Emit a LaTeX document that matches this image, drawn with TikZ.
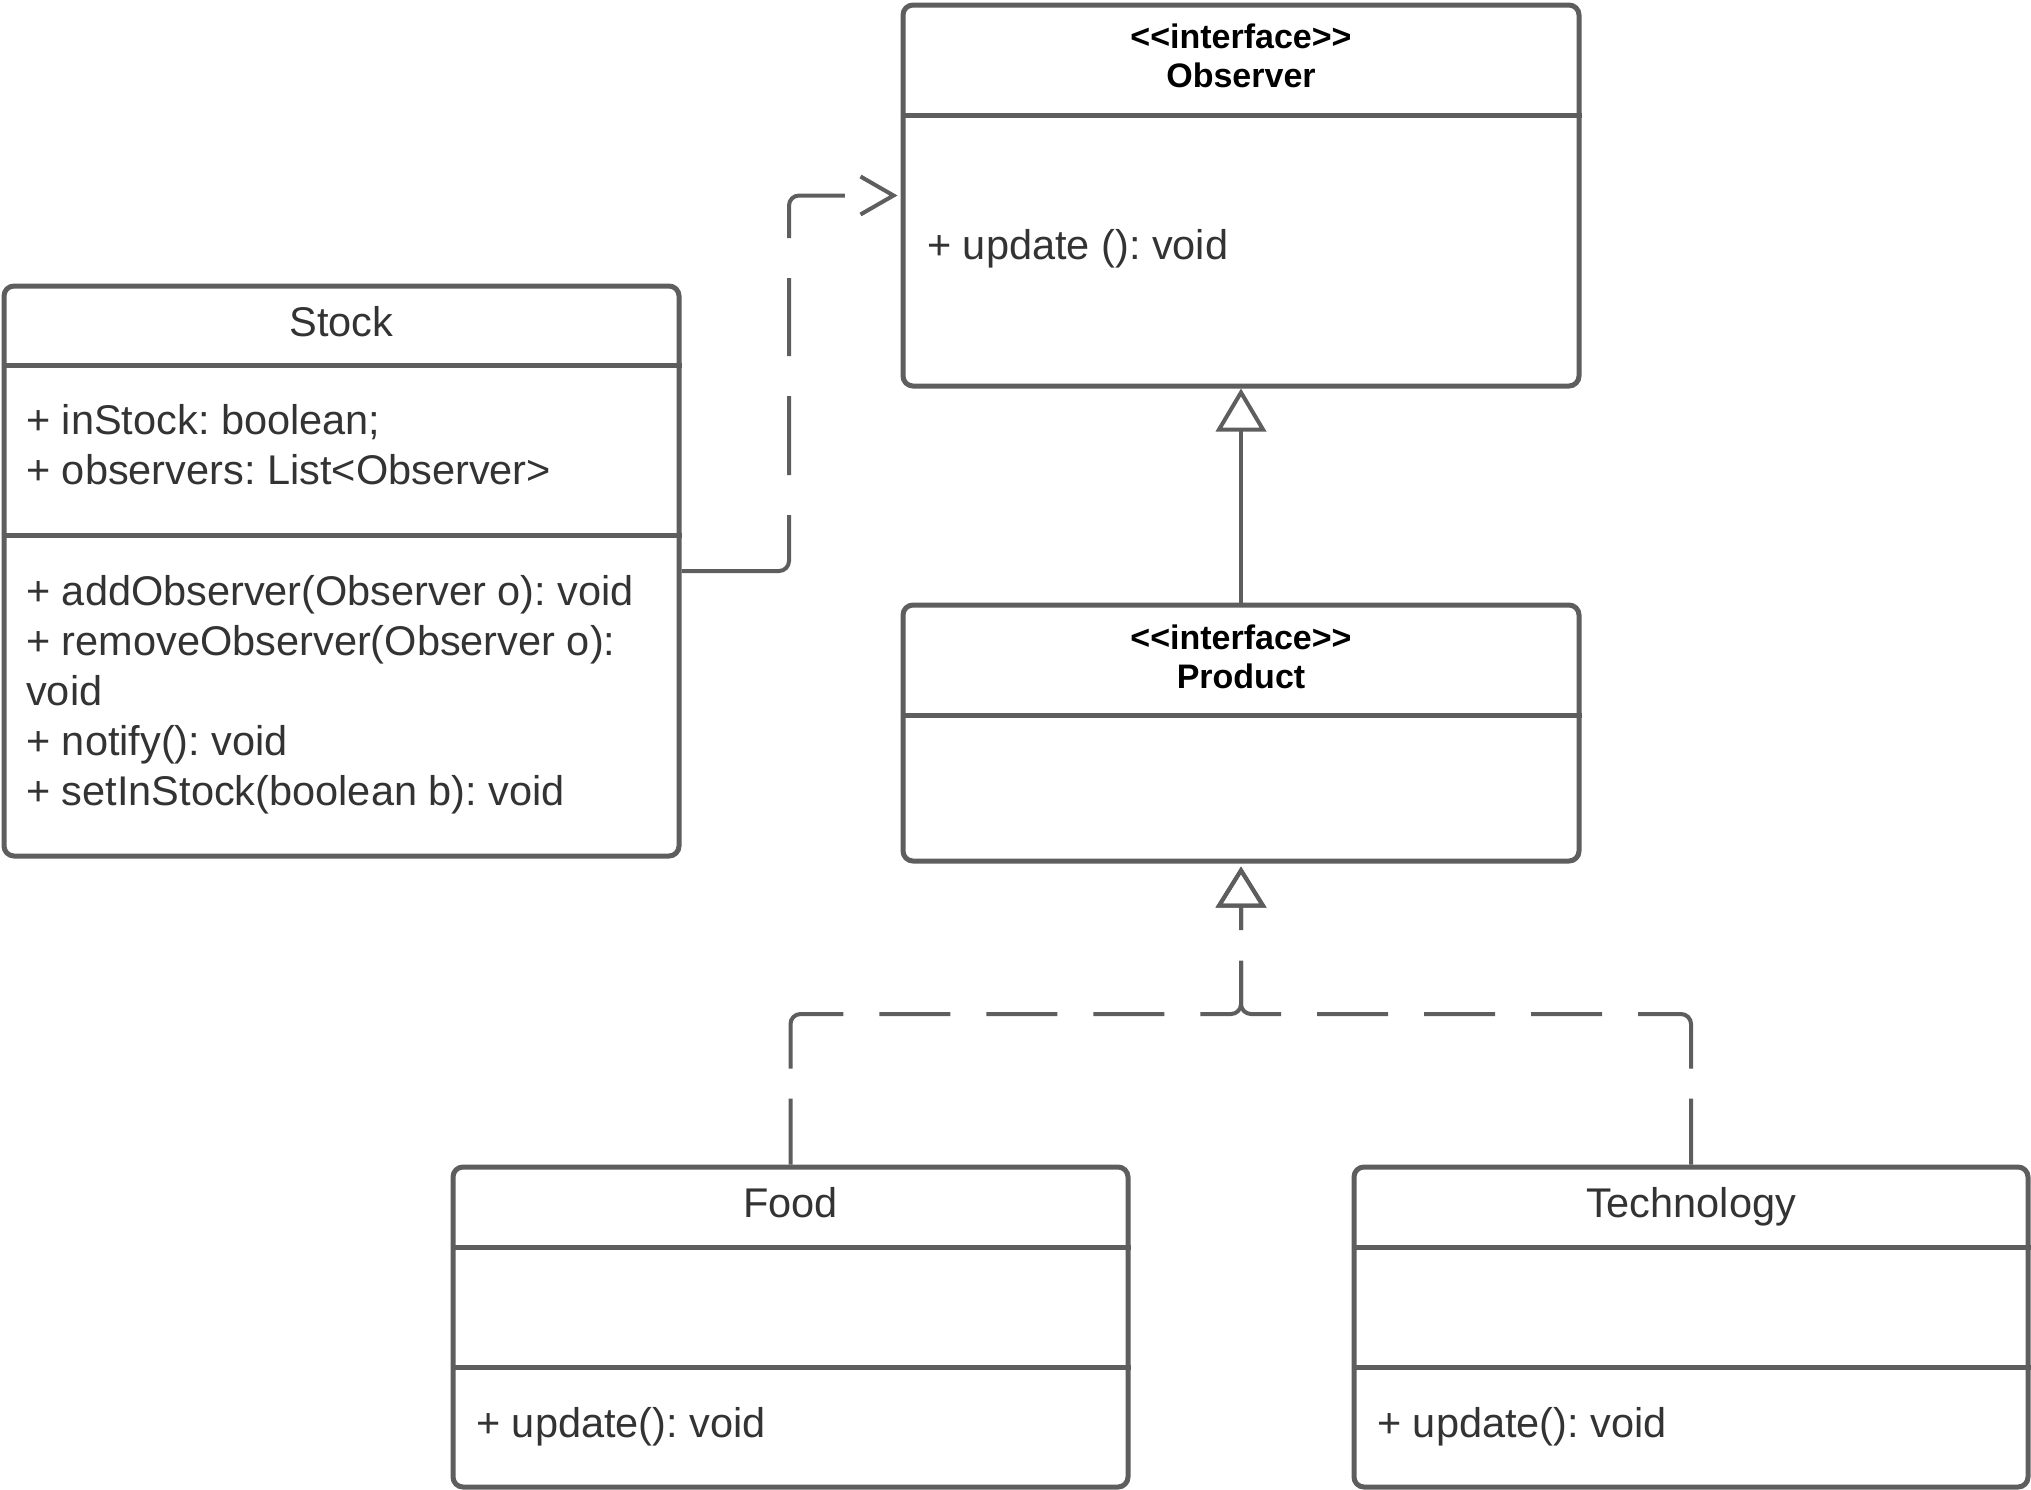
\documentclass[tikz,border=0pt]{standalone}
\usepackage{fontspec}
\setmainfont{Liberation Sans}
\usetikzlibrary{arrows.meta}
\definecolor{lc}{HTML}{5E5E5E}
\definecolor{tc}{HTML}{333333}
\begin{document}
\frenchspacing
\begin{tikzpicture}[x=1pt,y=-1pt,
  box/.style={draw=lc, line width=5pt, rounded corners=10pt, inner sep=0pt, fill=white},
  sepline/.style={draw=lc, line width=5pt},
  txt/.style={inner sep=0pt, text=tc, font=\fontsize{41.5}{50}\selectfont, anchor=base west},
  ttl/.style={inner sep=0pt, text=tc, font=\fontsize{41.5}{50}\selectfont, anchor=base},
  hdr/.style={inner sep=0pt, text=black, font=\bfseries\fontsize{34}{39}\selectfont, anchor=base},
  conn/.style={draw=lc, line width=4pt, rounded corners=10pt},
]
\useasboundingbox (0,0) rectangle (2031,1489);
\fill[white] (0,0) rectangle (2031,1489);

% boxes
\node[box, minimum width=675pt, minimum height=570pt] (stock) at (341.5,571) {};
\node[box, minimum width=676pt, minimum height=381pt] (observer) at (1241,195.5) {};
\node[box, minimum width=676pt, minimum height=256pt] (product) at (1241,733) {};
\node[box, minimum width=675pt, minimum height=320pt] (food) at (790.5,1327) {};
\node[box, minimum width=674pt, minimum height=320pt] (tech) at (1691,1327) {};

% separators
\draw[sepline] (stock.west |- 0,365) -- (stock.east |- 0,365);
\draw[sepline] (stock.west |- 0,535) -- (stock.east |- 0,535);
\draw[sepline] (observer.west |- 0,115) -- (observer.east |- 0,115);
\draw[sepline] (product.west |- 0,715) -- (product.east |- 0,715);
\draw[sepline] (food.west |- 0,1247) -- (food.east |- 0,1247);
\draw[sepline] (food.west |- 0,1367) -- (food.east |- 0,1367);
\draw[sepline] (tech.west |- 0,1247) -- (tech.east |- 0,1247);
\draw[sepline] (tech.west |- 0,1367) -- (tech.east |- 0,1367);

% texts: Stock
\node[ttl] (stockname) at (341.5,336) {Stock};
\node[txt] (sa1) at (26,434.5) {+ inStock: boolean;};
\node[txt] (sa2) at (26,484.5) {+ observers: List<{}Observer>};
\node[txt] (sm1) at (26,605.5) {+ addObserver(Observer o): void};
\node[txt] (sm2) at (26,655.5) {+ removeObserver(Observer o):};
\node[txt] (sm3) at (26,705.5) {void};
\node[txt] (sm4) at (26,755.5) {+ notify(): void};
\node[txt] (sm5) at (26,805.5) {+ setInStock(boolean b): void};

% Observer
\node[hdr] (obsst) at (1241,48.5) {<{}<interface>{}>};
\node[hdr] (obsname) at (1241,87.5) {Observer};
\node[txt] (obsm) at (927,259.5) {+ update (): void};

% Product
\node[hdr] (prodst) at (1241,649.5) {<{}<interface>{}>};
\node[hdr] (prodname) at (1241,688.5) {Product};

% Food
\node[ttl] (foodname) at (790.5,1217) {Food};
\node[txt] (foodm) at (476,1437) {+ update(): void};

% Technology
\node[ttl] (techname) at (1691,1217) {Technology};
\node[txt] (techm) at (1377,1437) {+ update(): void};

% connectors
\coordinate (depx) at (789,0);
\coordinate (jn) at (1241,1014);

\draw[conn, dash pattern=on 159pt off 40pt on 79pt off 40pt on 78pt off 40pt on 94pt off 600pt,
      -{Straight Barb[length=33pt,width=38pt]}, shorten >=3pt]
  (stock.east) -| (depx |- observer.west) -- (observer.west);

\draw[conn, -{Triangle[open,length=43pt,width=50pt]}]
  (product.north) -- (observer.south);

\draw[conn, dash pattern=on 66pt off 30pt on 103pt off 36pt on 71pt off 36pt on 71pt off 36pt on 71pt off 36pt on 89pt off 31pt on 300pt,
      -{Triangle[open,length=41pt,width=50pt]}, shorten >=3pt]
  (food.north) |- (jn) -- (product.south);

\draw[conn, dash pattern=on 66pt off 30pt on 103pt off 36pt on 71pt off 36pt on 71pt off 36pt on 71pt off 36pt on 89pt off 31pt on 300pt,
      -{Triangle[open,length=41pt,width=50pt]}, shorten >=3pt]
  (tech.north) |- (jn) -- (product.south);
\end{tikzpicture}
\end{document}
